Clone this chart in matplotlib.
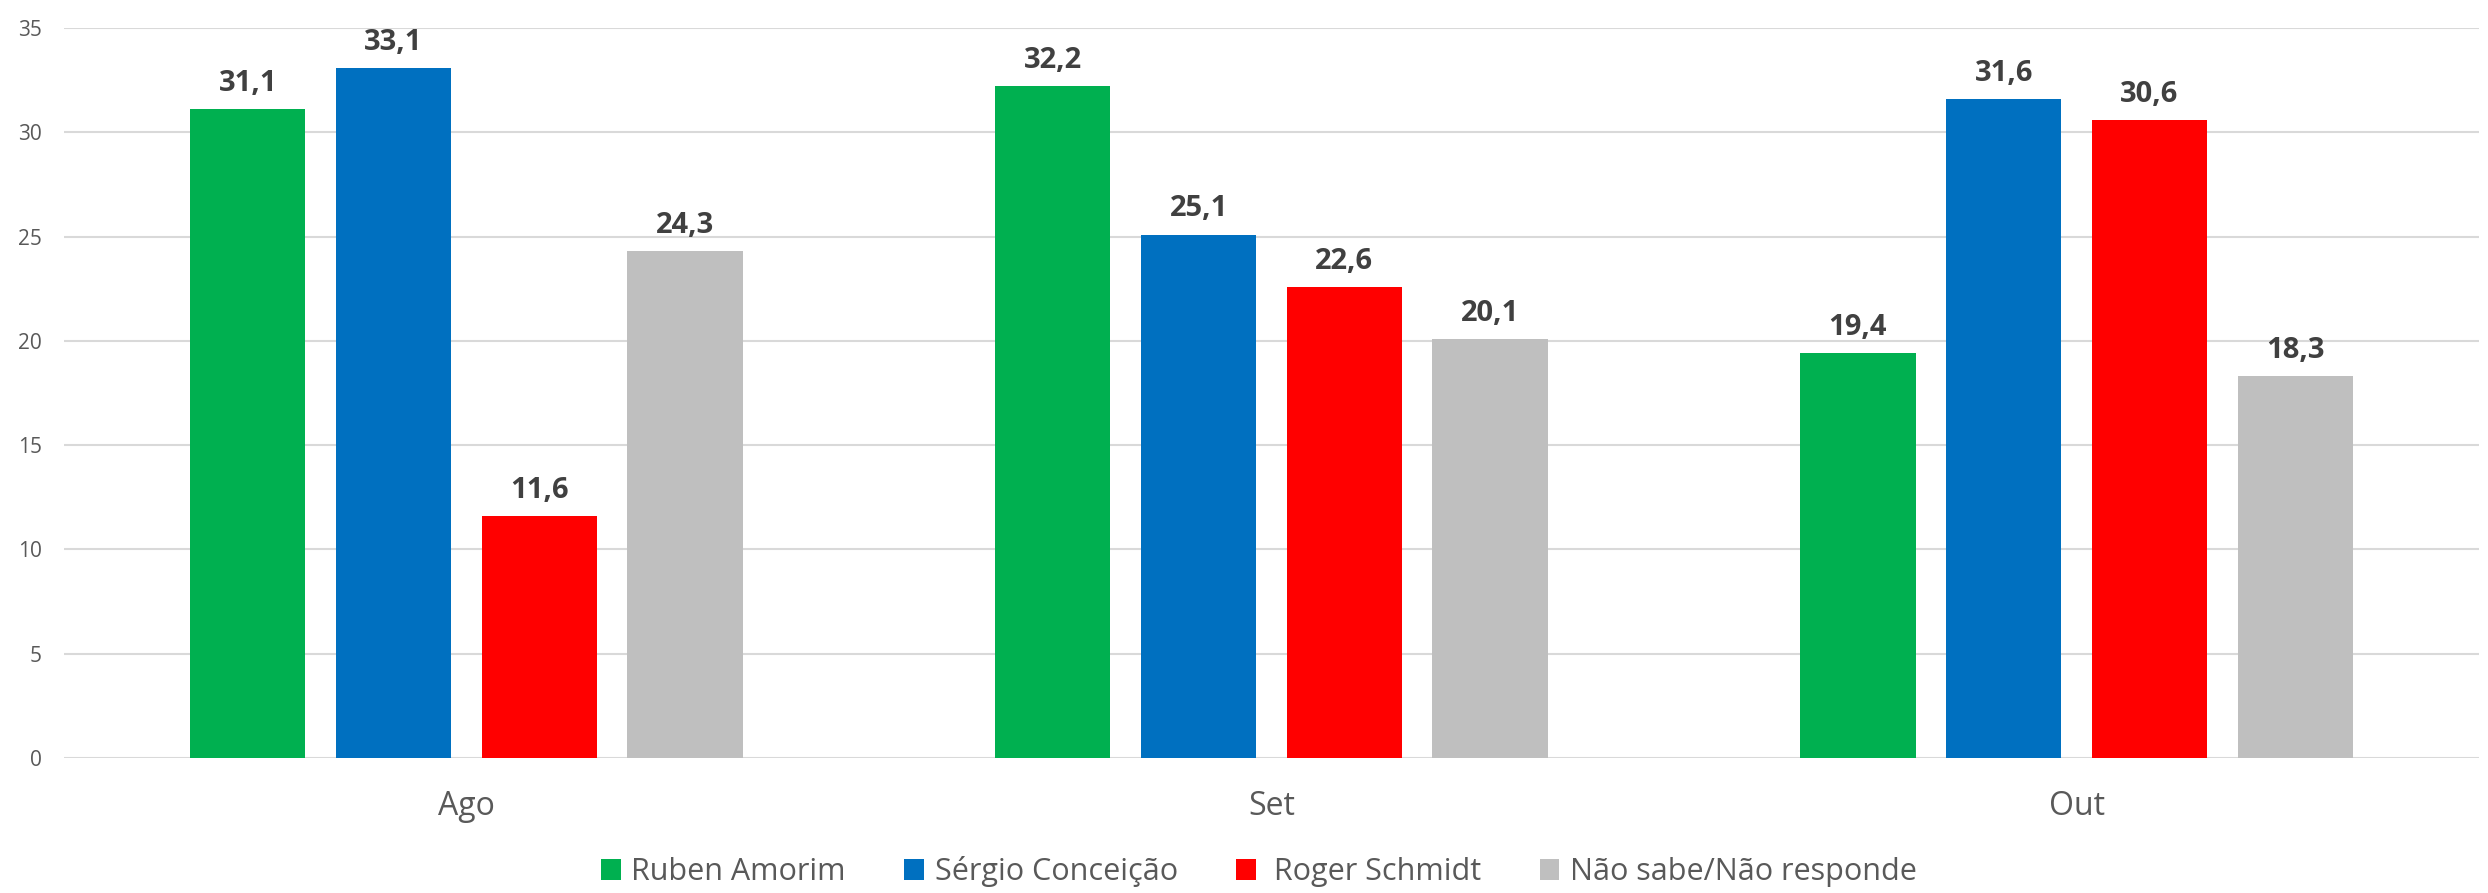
import numpy as np
import matplotlib.pyplot as plt
from matplotlib.patches import Patch

# Dados
meses = ['Ago', 'Set', 'Out']
ruben_amorim = [31.1, 32.2, 19.4]
sergio_conceicao = [33.1, 25.1, 31.6]
roger_schmidt = [11.6, 22.6, 30.6]
nao_sabe = [24.3, 20.1, 18.3]

series = [
    ('Ruben Amorim', ruben_amorim, '#00B050'),
    ('Sérgio Conceição', sergio_conceicao, '#0070C0'),
    (' Roger Schmidt', roger_schmidt, '#FF0000'),
    ('Não sabe/Não responde', nao_sabe, '#BFBFBF'),
]

plt.rcParams['font.family'] = ['Open Sans', 'DejaVu Sans']

fig = plt.figure(figsize=(24.88, 8.93), dpi=100)
ax = fig.add_axes([0.0257, 0.1512, 0.9707, 0.8174])

x = np.arange(len(meses))
bar_w = 0.143
pitch = 0.181

for i, (nome, vals, cor) in enumerate(series):
    pos = x + (i - 1.5) * pitch
    bars = ax.bar(pos, vals, width=bar_w, color=cor, zorder=3)
    for b, v in zip(bars, vals):
        ax.annotate(f'{v:.1f}'.replace('.', ','),
                    (b.get_x() + b.get_width() / 2, v),
                    xytext=(0, 8), textcoords='offset points',
                    ha='center', va='bottom', fontsize=21,
                    fontweight='bold', color='#404040')

ax.set_xlim(-0.5, 2.5)
ax.set_ylim(0, 35)
ax.set_yticks(range(0, 36, 5))
ax.set_xticks(x)
ax.set_xticklabels(meses)
ax.tick_params(axis='y', length=0, pad=16, labelsize=15, labelcolor='#595959')
ax.tick_params(axis='x', length=0, pad=23, labelsize=23, labelcolor='#595959')
ax.grid(axis='y', color='#D9D9D9', linewidth=1.5, zorder=0)
for s in ax.spines.values():
    s.set_visible(False)

handles = [Patch(facecolor=c, label=n) for n, _, c in series]
fig.legend(handles=handles, loc='center', bbox_to_anchor=(0.506, 0.024),
           ncol=4, frameon=False, fontsize=22, labelcolor='#595959',
           handlelength=0.65, handleheight=0.65, handletextpad=0.35,
           columnspacing=1.9)

fig.savefig('out.png', dpi=100)
